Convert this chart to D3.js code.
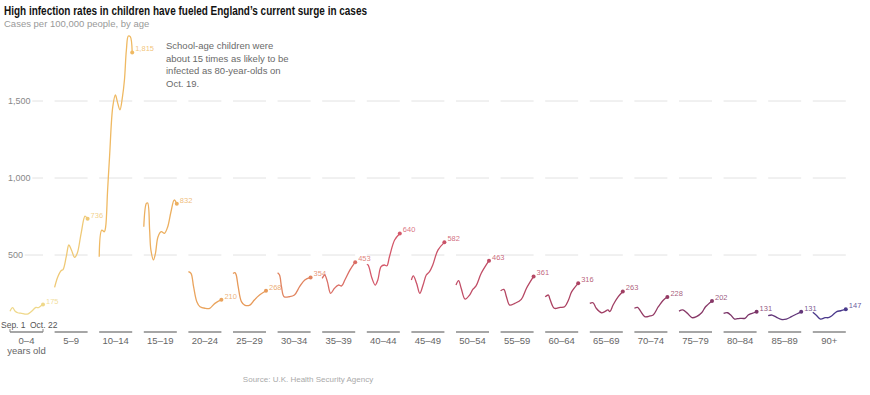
<!DOCTYPE html>
<html>
<head>
<meta charset="utf-8">
<script src="https://cdn.jsdelivr.net/npm/d3@7"></script>
<style>
  body { margin: 0; background: #fff; }
  svg { display: block; font-family: "Liberation Sans", Arial, sans-serif; }
  .title { font-weight: bold; font-size: 12.5px; fill: #121212; }
  .subtitle { font-size: 9.5px; fill: #999; }
  .note { font-size: 9.5px; fill: #6a6a6a; }
  .y-label { font-size: 9px; fill: #888; }
  .group-label { font-size: 9.5px; fill: #666; }
  .date-label { font-size: 8.5px; fill: #555; }
  .end-label { font-size: 7.5px; }
  .source { font-size: 8px; fill: #aaa; }
</style>
</head>
<body>
<div class="container"></div>
<script>
const groups = ["0\u20134", "5\u20139", "10\u201314", "15\u201319", "20\u201324", "25\u201329", "30\u201334",
  "35\u201339", "40\u201344", "45\u201349", "50\u201354", "55\u201359", "60\u201364", "65\u201369",
  "70\u201374", "75\u201379", "80\u201384", "85\u201389", "90+"];

// latest value shown at the end of each line
const latest = ["175", "736", "1,815", "832", "210", "268", "354", "453", "640", "582",
  "463", "361", "316", "263", "228", "202", "131", "131", "147"];

const yTicks = [500, 1000, 1500];

// [day since Sep. 1, cases per 100k]
const s0_4 = [[0,135],[4,158],[8,135],[12,125],[16,122],[20,120],[24,116],[28,118],[32,130],[36,145],[40,160],[44,158],[48,170],[51,178]];
const s5_9 = [[0,290],[5,359],[10,398],[13,405],[18,489],[22,565],[26,532],[31,485],[35,511],[41,641],[47,753],[50,740],[51,736]];
const s10_14 = [[0,489],[4,662],[8,651],[10,684],[13,922],[16,1138],[21,1463],[25,1539],[28,1496],[32,1442],[36,1528],[39,1636],[42,1831],[45,1922],[48,1918],[51,1815]];
const s15_19 = [[0,684],[4,835],[6,838],[9,662],[11,532],[15,468],[18,511],[22,619],[27,651],[32,641],[37,684],[42,781],[47,857],[51,832]];
const s20_24 = [[0,392],[4,381],[8,294],[13,197],[18,164],[26,154],[33,154],[41,186],[51,210]];
const s25_29 = [[0,380],[3,385],[5,370],[8,294],[13,197],[18,175],[26,175],[33,208],[41,240],[51,268]];
const s30_34 = [[0,385],[3,370],[6,294],[10,229],[18,229],[26,240],[34,294],[42,338],[51,354]];
const s35_39 = [[0,348],[4,370],[8,327],[13,251],[19,284],[25,305],[30,299],[35,338],[43,403],[51,453]];
const s40_44 = [[0,440],[2,435],[4,413],[8,349],[13,305],[17,338],[22,424],[27,435],[31,430],[35,489],[43,597],[51,640]];
const s45_49 = [[0,338],[3,364],[8,316],[13,251],[18,305],[23,370],[28,392],[33,435],[41,532],[51,582]];
const s50_54 = [[0,305],[4,333],[8,284],[14,214],[21,240],[26,277],[31,299],[39,381],[51,463]];
const s55_59 = [[0,268],[5,277],[9,229],[14,175],[22,186],[32,212],[40,284],[51,361]];
const s60_64 = [[0,229],[5,240],[7,218],[14,154],[23,160],[30,164],[36,208],[41,262],[51,316]];
const s65_69 = [[0,186],[5,190],[10,154],[18,125],[23,132],[28,143],[31,132],[36,175],[44,229],[51,263]];
const s70_74 = [[0,154],[5,160],[10,132],[16,100],[24,104],[29,110],[37,164],[45,208],[51,228]];
const s75_79 = [[0,136],[6,143],[13,121],[20,93],[27,100],[35,125],[41,164],[51,202]];
const s80_84 = [[0,121],[6,125],[11,110],[17,84],[25,89],[33,89],[38,110],[44,121],[51,131]];
const s85_89 = [[0,106],[6,110],[13,95],[20,82],[28,84],[36,100],[44,117],[51,131]];
const s90 = [[0,128],[5,110],[12,84],[19,93],[24,93],[29,104],[37,132],[43,138],[51,147]];

const series = [s0_4, s5_9, s10_14, s15_19, s20_24, s25_29, s30_34, s35_39, s40_44, s45_49,
  s50_54, s55_59, s60_64, s65_69, s70_74, s75_79, s80_84, s85_89, s90];

const width = 870, height = 395;

const svg = d3.select(".container")
  .append("svg")
    .attr("width", width)
    .attr("height", height);

svg.append("rect").attr("width", width).attr("height", height).attr("fill", "#fff");

const x = d3.scaleBand()
  .domain(groups)
  .range([10, 845.8])
  .paddingInner(0.26)
  .paddingOuter(0);

const day = d3.scaleLinear().domain([0, 51]).range([0, x.bandwidth()]);

const y = d3.scaleLinear().domain([0, 500]).range([332, 255]);

const color = d3.scaleLinear()
  .domain([0, 2, 5, 8, 12, 16, 18])
  .range(["#efd88a", "#efb962", "#e79a5a", "#d4586a", "#ac4262", "#7b3468", "#4b3a8c"])
  .interpolate(d3.interpolateRgb);

// grid segments per panel
groups.forEach(g => {
  svg.selectAll(null)
    .data(yTicks)
    .enter()
    .append("line")
      .attr("x1", x(g))
      .attr("x2", x(g) + x.bandwidth())
      .attr("y1", d => y(d))
      .attr("y2", d => y(d))
      .attr("stroke", "#e2e2e2")
      .attr("stroke-width", 1);
});

svg.selectAll(".y-label")
  .data(yTicks)
  .enter()
  .append("text")
    .classed("y-label", true)
    .attr("x", 8)
    .attr("y", d => y(d) + 3)
    .attr("stroke", "#fff")
    .attr("stroke-width", 4)
    .attr("paint-order", "stroke")
    .text(d => d3.format(",")(d));

// baselines
svg.selectAll(".base")
  .data(groups)
  .enter()
  .append("line")
    .classed("base", true)
    .attr("x1", d => x(d))
    .attr("x2", d => x(d) + x.bandwidth())
    .attr("y1", y(0))
    .attr("y2", y(0))
    .attr("stroke", "#888")
    .attr("stroke-width", 1.3);

// bracket ticks on the first panel
[0, 51].forEach(d => {
  svg.append("line")
    .attr("x1", x(groups[0]) + day(d))
    .attr("x2", x(groups[0]) + day(d))
    .attr("y1", y(0))
    .attr("y2", y(0) - 3)
    .attr("stroke", "#888")
    .attr("stroke-width", 1);
});

svg.append("text").classed("date-label", true)
  .attr("x", 1).attr("y", 328)
  .text("Sep. 1");
svg.append("text").classed("date-label", true)
  .attr("x", 30).attr("y", 328)
  .text("Oct. 22");

svg.selectAll(".group-label")
  .data(groups)
  .enter()
  .append("text")
    .classed("group-label", true)
    .attr("x", d => x(d) + x.bandwidth() / 2)
    .attr("y", 344)
    .attr("text-anchor", "middle")
    .text(d => d);

svg.append("text").classed("group-label", true)
  .attr("x", x(groups[0]) + x.bandwidth() / 2).attr("y", 354)
  .attr("text-anchor", "middle").text("years old");

const line = d3.line()
  .x(d => day(d[0]))
  .y(d => y(d[1]))
  .curve(d3.curveCatmullRom.alpha(0.5));

const panels = svg.selectAll(".panel")
  .data(series)
  .enter()
  .append("g")
    .classed("panel", true)
    .attr("transform", (d, i) => "translate(" + x(groups[i]) + ",0)");

panels.append("path")
  .attr("d", d => line(d))
  .attr("fill", "none")
  .attr("stroke", (d, i) => color(i))
  .attr("stroke-width", 1.3);

panels.append("circle")
  .attr("cx", d => day(d[d.length - 1][0]))
  .attr("cy", d => y(d[d.length - 1][1]))
  .attr("r", 2)
  .attr("fill", (d, i) => color(i));

panels.append("text")
  .classed("end-label", true)
  .attr("x", d => day(d[d.length - 1][0]) + 3)
  .attr("y", d => y(d[d.length - 1][1]) - 1)
  .attr("fill", (d, i) => color(i))
  .attr("fill-opacity", 0.85)
  .text((d, i) => latest[i]);

// titles
svg.append("text").classed("title", true)
  .attr("x", 4).attr("y", 15)
  .attr("textLength", 363).attr("lengthAdjust", "spacingAndGlyphs")
  .text("High infection rates in children have fueled England\u2019s current surge in cases");

svg.append("text").classed("subtitle", true)
  .attr("x", 4).attr("y", 27)
  .text("Cases per 100,000 people, by age");

const note = ["School-age children were", "about 15 times as likely to be",
  "infected as 80-year-olds on", "Oct. 19."];
svg.selectAll(".note")
  .data(note)
  .enter()
  .append("text")
    .classed("note", true)
    .attr("x", 166)
    .attr("y", (d, i) => 49 + i * 12.5)
    .text(d => d);

svg.append("text").classed("source", true)
  .attr("x", 308).attr("y", 382)
  .attr("text-anchor", "middle")
  .text("Source: U.K. Health Security Agency");
</script>
</body>
</html>
